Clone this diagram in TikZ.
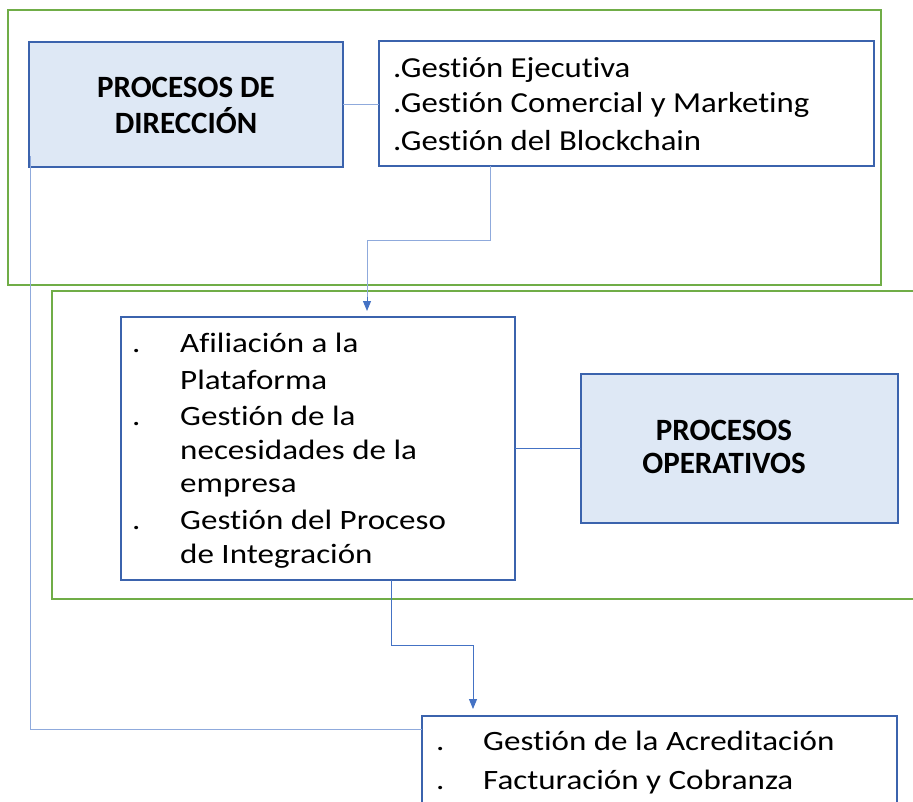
\documentclass[tikz,border=0pt]{standalone}
\usepackage{fontspec}
\setmainfont[Ligatures={NoCommon}]{Carlito}
\newfontfamily\wideA[FakeStretch=1.13,Ligatures={NoCommon}]{Carlito}
\newfontfamily\wideB[FakeStretch=1.18,Ligatures={NoCommon}]{Carlito}
\usetikzlibrary{arrows.meta,calc}
\definecolor{grn}{HTML}{70AD47}
\definecolor{bord}{HTML}{3B63AD}
\definecolor{fillb}{HTML}{DEE8F5}
\definecolor{lconn}{HTML}{8FAADC}
\definecolor{dconn}{HTML}{4472C4}
\tikzset{
  frame/.style={draw=grn, line width=1.6pt},
  box/.style={draw=bord, line width=1.4pt, anchor=north west, inner sep=0pt, outer sep=0pt},
  headbox/.style={box, fill=fillb},
  headtxt/.style={anchor=base, inner sep=0pt, font=\fontsize{31}{37}\selectfont\bfseries},
  ltxt/.style={anchor=base west, inner sep=0pt, font=\wideA\fontsize{29}{35}\selectfont},
  mtxt/.style={anchor=base west, inner sep=0pt, font=\wideB\fontsize{28}{34}\selectfont},
  lline/.style={draw=lconn, line width=1pt},
  dline/.style={draw=dconn, line width=1pt},
  arr/.style={-{Triangle[length=10pt,width=8pt]}}
}
\begin{document}
\begin{tikzpicture}[x=1pt,y=-1pt]
\useasboundingbox (0,0) rectangle (913,801);
\clip (0,0) rectangle (913,801);
% frames
\draw[frame] (8,10) rectangle (881,285);
\draw[frame] (52,291) rectangle (940,599);
% boxes
\node[headbox, minimum width=314pt, minimum height=125pt] (pd) at (29,42) {};
\node[box, minimum width=495pt, minimum height=125pt] (l1) at (379,41) {};
\node[box, minimum width=394pt, minimum height=263pt] (l2) at (121,317) {};
\node[headbox, minimum width=317pt, minimum height=149pt] (po) at (581,374) {};
\node[box, minimum width=475pt, minimum height=130pt] (l3) at (422,716) {};
% head texts
\node[headtxt] (pd1) at (186,97) {PROCESOS DE};
\node[headtxt] (pd2) at (186,133) {DIRECCIÓN};
\node[headtxt] (po1) at (724,440) {PROCESOS};
\node[headtxt] (po2) at (724,473) {OPERATIVOS};
% list 1
\node[ltxt] (a1) at (393,77) {.Gestión Ejecutiva};
\node[ltxt] (a2) at (393,112) {.Gestión Comercial y Marketing};
\node[ltxt] (a3) at (393,150) {.Gestión del Blockchain};
% list 2
\node[mtxt] (b1d) at (132,352) {.};
\node[mtxt] (b1) at (180,352) {Afiliación a la};
\node[mtxt] (b2) at (180,389) {Plataforma};
\node[mtxt] (b3d) at (132,425) {.};
\node[mtxt] (b3) at (180,425) {Gestión de la};
\node[mtxt] (b4) at (180,459) {necesidades de la};
\node[mtxt] (b5) at (180,492) {empresa};
\node[mtxt] (b6d) at (132,529) {.};
\node[mtxt] (b6) at (180,529) {Gestión del Proceso};
\node[mtxt] (b7) at (180,563) {de Integración};
% list 3
\node[mtxt] (c1d) at (436,750) {.};
\node[mtxt] (c1) at (483,750) {Gestión de la Acreditación};
\node[mtxt] (c2d) at (436,789) {.};
\node[mtxt] (c2) at (483,789) {Facturación y Cobranza};
% connectors
\draw[lline] (pd.east) -- (pd.east -| l1.west);
\draw[lline] ($(l1.south west)+(111,0)$) -- ++(0,74) -| ($(l2.north west)+(246,-18)$);
\draw[dline, arr] ($(l2.north west)+(246,-20)$) -- ($(l2.north west)+(246,-6)$);
\draw[dline] (l2.east) -- (po.west);
\draw[dline] ($(l2.south west)+(270,0)$) -- ++(0,65) -| ($(l3.north west)+(51,-18)$);
\draw[dline, arr] ($(l3.north west)+(51,-20)$) -- ($(l3.north west)+(51,-7)$);
\draw[lline] ($(pd.south west)+(1,-11)$) |- ($(l3.north west)+(0,13)$);
\end{tikzpicture}
\end{document}
